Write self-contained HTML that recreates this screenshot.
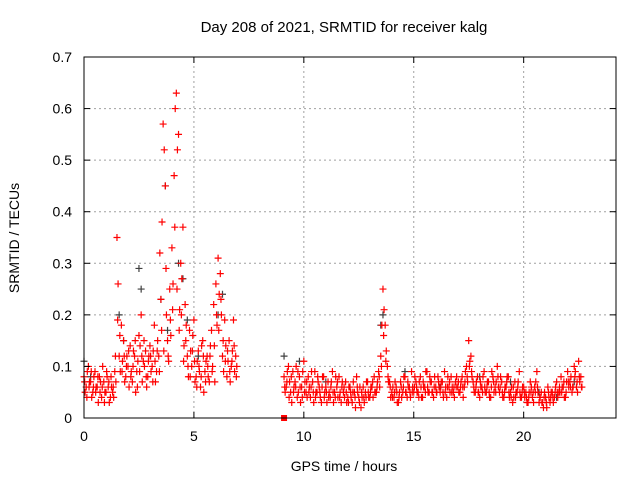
<!DOCTYPE html>
<html><head><meta charset="utf-8"><style>
body{margin:0;background:#fff}
svg{display:block;font-family:"Liberation Sans",sans-serif}
</style></head><body>
<svg id="chart" width="640" height="480">
<text x="344" y="32" font-size="15" text-anchor="middle">Day 208 of 2021, SRMTID for receiver kalg</text>
<text x="344" y="471" font-size="14" text-anchor="middle">GPS time / hours</text>
<text transform="translate(19,238) rotate(-90)" font-size="14" text-anchor="middle">SRMTID / TECUs</text>
<g id="grid"></g><g id="marks"></g><g id="axes"></g>
</svg>
<script>
const xTicks=[0,5,10,15,20];
const yTicks=[0,0.1,0.2,0.3,0.4,0.5,0.6,0.7];
const yTickLabels=["0","0.1","0.2","0.3","0.4","0.5","0.6","0.7"];
const seg1Start=0.0, seg2Start=9.1, step=0.1;
const redA1=[0.08,0.06,0.10,0.07,0.05,0.09,0.06,0.08,0.04,0.07,0.05,0.06,0.04,0.05,0.09,0.35,0.12,0.18,0.15,0.08,0.10,0.14,0.07,0.12,0.09,0.16,0.20,0.11,0.13,0.08,0.14,0.10,0.18,0.09,0.12,0.23,0.57,0.45,0.15,0.25,0.33,0.47,0.63,0.55,0.30,0.37,0.22,0.12,0.17,0.10,0.19,0.08,0.13,0.06,0.15,0.09,0.12,0.07,0.17,0.22,0.26,0.31,0.28,0.12,0.19,0.08,0.15,0.10,0.19,0.12];
const redB1=[0.05,0.09,0.07,0.04,0.08,0.06,0.03,0.07,0.10,0.05,0.08,0.03,0.06,0.04,0.07,0.26,0.09,0.11,0.07,0.12,0.06,0.09,0.13,0.05,0.11,0.14,0.07,0.10,0.06,0.12,0.09,0.13,0.07,0.15,0.32,0.38,0.52,0.20,0.11,0.16,0.26,0.60,0.52,0.21,0.27,0.14,0.18,0.08,0.13,0.16,0.07,0.11,0.09,0.14,0.05,0.11,0.08,0.14,0.10,0.07,0.18,0.24,0.20,0.09,0.14,0.11,0.07,0.13,0.09,0.10];
const redC1=[0.07,0.04,0.06,0.09,0.06,0.05,0.08,0.05,0.06,0.03,0.09,0.07,0.08,0.06,0.12,0.19,0.16,0.09,0.12,0.10,0.13,0.08,0.10,0.15,0.06,0.09,0.12,0.15,0.08,0.11,0.12,0.07,0.11,0.13,0.09,0.17,0.13,0.29,0.12,0.19,0.21,0.37,0.25,0.17,0.20,0.11,0.15,0.10,0.08,0.13,0.11,0.06,0.10,0.08,0.12,0.07,0.10,0.12,0.09,0.14,0.20,0.17,0.23,0.15,0.11,0.13,0.09,0.11,0.14,0.08];
const redA2=[0.08,0.06,0.10,0.05,0.09,0.07,0.04,0.08,0.06,0.11,0.05,0.08,0.04,0.07,0.09,0.05,0.06,0.03,0.08,0.06,0.07,0.04,0.09,0.05,0.06,0.08,0.03,0.05,0.07,0.04,0.06,0.03,0.05,0.08,0.04,0.02,0.06,0.05,0.07,0.04,0.06,0.08,0.05,0.09,0.12,0.25,0.18,0.10,0.07,0.05,0.04,0.06,0.03,0.07,0.05,0.08,0.04,0.06,0.09,0.05,0.07,0.05,0.08,0.04,0.06,0.09,0.05,0.07,0.04,0.06,0.08,0.05,0.07,0.09,0.04,0.06,0.08,0.05,0.07,0.06,0.05,0.08,0.06,0.10,0.15,0.12,0.07,0.05,0.08,0.04,0.06,0.09,0.05,0.07,0.04,0.08,0.06,0.10,0.05,0.07,0.04,0.06,0.08,0.05,0.03,0.07,0.05,0.09,0.04,0.06,0.05,0.03,0.07,0.04,0.06,0.09,0.03,0.05,0.02,0.04,0.06,0.03,0.05,0.04,0.07,0.05,0.08,0.06,0.04,0.09,0.07,0.05,0.10,0.06,0.11,0.08];
const redB2=[0.05,0.09,0.07,0.03,0.06,0.10,0.05,0.03,0.09,0.07,0.04,0.06,0.09,0.03,0.05,0.07,0.04,0.08,0.05,0.03,0.05,0.07,0.03,0.08,0.04,0.05,0.07,0.04,0.03,0.06,0.04,0.07,0.02,0.05,0.06,0.04,0.03,0.07,0.04,0.06,0.04,0.05,0.07,0.06,0.18,0.21,0.13,0.07,0.04,0.06,0.07,0.03,0.05,0.04,0.08,0.05,0.06,0.04,0.06,0.08,0.05,0.07,0.04,0.06,0.09,0.05,0.07,0.05,0.08,0.05,0.06,0.07,0.04,0.06,0.08,0.05,0.06,0.04,0.08,0.05,0.07,0.04,0.09,0.07,0.11,0.08,0.05,0.07,0.05,0.06,0.08,0.05,0.07,0.04,0.09,0.05,0.07,0.06,0.08,0.04,0.06,0.08,0.04,0.06,0.04,0.05,0.07,0.04,0.06,0.04,0.03,0.05,0.06,0.03,0.07,0.05,0.04,0.03,0.05,0.02,0.04,0.05,0.03,0.06,0.04,0.05,0.06,0.04,0.07,0.06,0.08,0.06,0.09,0.05,0.07,0.06];
const redC2=[0.06,0.07,0.04,0.08,0.05,0.06,0.09,0.06,0.04,0.05,0.07,0.05,0.06,0.05,0.04,0.08,0.05,0.06,0.04,0.05,0.04,0.06,0.05,0.04,0.07,0.04,0.06,0.06,0.05,0.03,0.05,0.05,0.04,0.06,0.03,0.05,0.04,0.04,0.05,0.05,0.07,0.05,0.06,0.08,0.10,0.16,0.11,0.08,0.06,0.04,0.05,0.05,0.04,0.06,0.06,0.05,0.07,0.05,0.05,0.06,0.06,0.04,0.06,0.07,0.05,0.06,0.08,0.05,0.06,0.05,0.07,0.06,0.05,0.05,0.06,0.07,0.05,0.06,0.06,0.07,0.06,0.06,0.07,0.08,0.10,0.09,0.06,0.06,0.05,0.07,0.05,0.06,0.06,0.05,0.06,0.07,0.05,0.08,0.06,0.05,0.05,0.07,0.05,0.04,0.06,0.04,0.06,0.05,0.05,0.05,0.04,0.04,0.05,0.05,0.05,0.06,0.04,0.03,0.04,0.03,0.05,0.04,0.04,0.05,0.05,0.06,0.05,0.07,0.05,0.07,0.06,0.06,0.08,0.07,0.08,0.06];
const greyT=[0.0,0.3,1.6,1.8,2.5,2.6,3.5,3.7,3.8,4.3,4.5,4.7,5.2,6.1,6.3,9.1,9.8,11.0,13.5,13.6,14.6,16.2,18.0,19.4,20.7,21.5,22.3];
const greyV=[0.11,0.08,0.20,0.15,0.29,0.25,0.23,0.45,0.17,0.30,0.27,0.19,0.12,0.20,0.24,0.12,0.11,0.07,0.18,0.20,0.09,0.06,0.08,0.07,0.05,0.04,0.07];
const zeroT=[9.1], zeroV=[0];

const X0=84,X1=616,Y0=418,Y1=57,XMAX=24.2,YMAX=0.7;
const xs=t=>X0+t*(X1-X0)/XMAX, ys=v=>Y0-v*(Y0-Y1)/YMAX;
const NS="http://www.w3.org/2000/svg";
function mk(tag,attrs,parent){const e=document.createElementNS(NS,tag);for(const k in attrs)e.setAttribute(k,attrs[k]);document.getElementById(parent).appendChild(e);return e;}
xTicks.forEach((t,i)=>{
  if(t>0){const g=mk('line',{x1:xs(t),x2:xs(t),y1:Y0,y2:Y1,stroke:'#a0a0a0','stroke-dasharray':'2,3'},'grid');
  
  }
  const l=mk('text',{x:xs(t),y:Y0+23,'font-size':14,'text-anchor':'middle'},'axes');l.textContent=t;
  
  
  mk('line',{x1:xs(t),x2:xs(t),y1:Y0,y2:Y0-6,stroke:'#000'},'axes');
  mk('line',{x1:xs(t),x2:xs(t),y1:Y1,y2:Y1+6,stroke:'#000'},'axes');
});
yTicks.forEach((v,i)=>{
  if(v>0&&v<0.7){const g=mk('line',{x1:X0,x2:X1,y1:ys(v),y2:ys(v),stroke:'#a0a0a0','stroke-dasharray':'2,3'},'grid');
  
  }
  const l=mk('text',{x:X0-12,y:ys(v)+5,'font-size':14,'text-anchor':'end'},'axes');l.textContent=yTickLabels[i];
  
  
  mk('line',{x1:X0,x2:X0+6,y1:ys(v),y2:ys(v),stroke:'#000'},'axes');
  mk('line',{x1:X1,x2:X1-6,y1:ys(v),y2:ys(v),stroke:'#000'},'axes');
});
const fr=mk('rect',{x:X0,y:Y1,width:X1-X0,height:Y0-Y1,fill:'none',stroke:'#000'},'axes');


function plus(t,v,col){
  const x=xs(t),y=ys(v);
  const p=mk('path',{d:`M${x-3.5},${y}H${x+3.5}M${x},${y-3.5}V${y+3.5}`,stroke:col,'stroke-width':1.2},'marks');
  
  
}
greyT.forEach((t,i)=>plus(t,greyV[i],'#404040'));
redA1.forEach((v,i)=>plus(seg1Start+i*step,v,'#ff0000'));
redB1.forEach((v,i)=>plus(seg1Start+i*step+0.05,v,'#ff0000'));
redC1.forEach((v,i)=>plus(seg1Start+i*step+0.03,v,'#ff0000'));
redA2.forEach((v,i)=>plus(seg2Start+i*step,v,'#ff0000'));
redB2.forEach((v,i)=>plus(seg2Start+i*step+0.05,v,'#ff0000'));
redC2.forEach((v,i)=>plus(seg2Start+i*step+0.03,v,'#ff0000'));
zeroT.forEach((t,i)=>{const r=mk('rect',{x:xs(t)-3,y:ys(zeroV[i])-3,width:6,height:6,fill:'#ff0000'},'marks');
  
  });
</script>
</body></html>
